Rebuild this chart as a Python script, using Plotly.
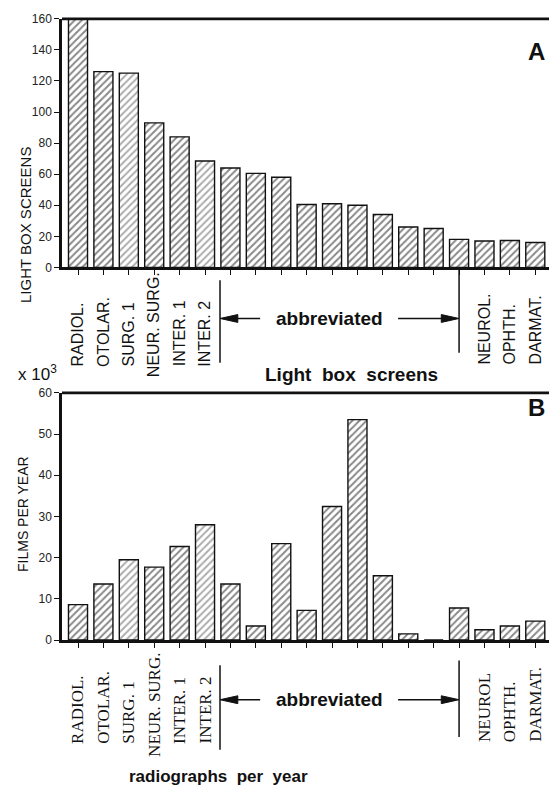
import plotly.graph_objects as go

W, H = 549, 803

# Bars in each panel, left to right (19 services)
bar_index = list(range(19))
left_labels = ["RADIOL.", "OTOLAR.", "SURG. 1", "NEUR. SURG.", "INTER. 1", "INTER. 2"]
right_labels = ["NEUROL.", "OPHTH.", "DARMAT."]
right_labels_b = ["NEUROL", "OPHTH.", "DARMAT."]

# Panel A: number of light box screens per service
light_box_screens = [160, 126, 125, 93, 84, 68.5, 64, 60.5, 58, 40.5,
                     41, 40, 34, 26, 25, 18, 17, 17.3, 16]
# Panel B: films per year (x 10^3) per service
films_per_year = [8.6, 13.6, 19.5, 17.7, 22.7, 28, 13.6, 3.4, 23.4, 7.2,
                  32.4, 53.5, 15.6, 1.5, 0, 7.8, 2.5, 3.4, 4.6]

ticks_a = [0, 20, 40, 60, 80, 100, 120, 140, 160]
ticks_b = [0, 10, 20, 30, 40, 50, 60]

# Services drawn with a broken (lighter) hatch
dotted = {2, 5}

SANS = "Liberation Sans, Arial, Helvetica, sans-serif"
NARROW = "Liberation Sans Narrow, Arial Narrow, Liberation Sans, sans-serif"
SERIF = "Liberation Serif, Times New Roman, serif"
SP = "&nbsp;"


def py(px):
    """Convert a pixel row into paper coordinates."""
    return 1 - px / H


def bar_trace(values, xa, ya):
    return go.Bar(
        x=bar_index, y=values, xaxis=xa, yaxis=ya, width=0.75,
        marker=dict(
            color="white",
            line=dict(color="#111", width=1.4),
            pattern=dict(
                shape="/", bgcolor="white", size=5, solidity=0.4,
                fgcolor=["#5a5a5a" if i in dotted else "#111" for i in bar_index],
            ),
        ),
        showlegend=False, hoverinfo="skip",
    )


fig = go.Figure()
fig.add_trace(bar_trace(light_box_screens, "x", "y"))
fig.add_trace(bar_trace(films_per_year, "x2", "y2"))

x_left = 62 / W
xrange = [-0.63, 18.54]
xcommon = dict(range=xrange, tickvals=bar_index, ticks="outside", ticklen=5,
               tickwidth=1.2, tickcolor="#111", showticklabels=False,
               showgrid=False, zeroline=False, showline=True,
               linecolor="#111", linewidth=2.5, domain=[x_left, 1])
ycommon = dict(ticks="outside", ticklen=5, tickwidth=1.2, tickcolor="#111",
               showgrid=False, zeroline=False, showline=True,
               linecolor="#111", linewidth=2.5,
               tickfont=dict(family=NARROW, size=12, color="#222"))

dom_a = [py(265), py(12)]
dom_b = [py(644.3), py(392.7)]

fig.update_layout(
    width=W, height=H, margin=dict(l=0, r=0, t=0, b=0),
    paper_bgcolor="white", plot_bgcolor="white", bargap=0.25,
    xaxis=dict(anchor="y", **xcommon),
    xaxis2=dict(anchor="y2", **xcommon),
    yaxis=dict(anchor="x", domain=dom_a, range=[0, 160], tickvals=ticks_a,
               **ycommon),
    yaxis2=dict(anchor="x2", domain=dom_b, range=[0, 60], tickvals=ticks_b,
                **ycommon),
)

shapes = []
annotations = []

# Top frame lines of each panel
for top in (dom_a[1], dom_b[1]):
    shapes.append(dict(type="line", xref="paper", yref="paper", x0=x_left,
                       x1=1, y0=top, y1=top,
                       line=dict(color="#111", width=2.8)))


def add_labels(xref, labels_left, labels_right, font, bottom, neur_extra):
    for i, lab in enumerate(labels_left):
        extra = neur_extra if lab.startswith("NEUR.") else 0
        annotations.append(dict(
            x=bar_index[i], xref=xref, y=py(bottom + extra), yref="paper",
            text=lab, textangle=-90, showarrow=False, xanchor="center",
            yanchor="bottom", borderpad=0, font=font))
    for j, lab in enumerate(labels_right):
        annotations.append(dict(
            x=bar_index[16 + j], xref=xref, y=py(bottom - 2), yref="paper",
            text=lab, textangle=-90, showarrow=False, xanchor="center",
            yanchor="bottom", borderpad=0, font=font))


def arrow(xref, tip, tail, y):
    """Horizontal arrow with a filled head, drawn from tail to tip."""
    head = 0.7 if tip < tail else -0.7
    half = 4.0 / H
    yp = py(y)
    shapes.append(dict(type="line", xref=xref, yref="paper", x0=tail,
                       x1=tip + head * 0.5, y0=yp, y1=yp,
                       line=dict(color="#111", width=1.6)))
    shapes.append(dict(
        type="path", xref=xref, yref="paper",
        path=f"M {tip},{yp} L {tip + head},{yp + half} "
             f"L {tip + head},{yp - half} Z",
        fillcolor="#111", line=dict(color="#111", width=1)))


def add_abbrev(xref, y_arrow, left_span, right_span):
    lx, rx = 5.59, 15.0
    shapes.append(dict(type="line", xref=xref, yref="paper", x0=lx, x1=lx,
                       y0=py(left_span[0]), y1=py(left_span[1]),
                       line=dict(color="#111", width=1.5)))
    shapes.append(dict(type="line", xref=xref, yref="paper", x0=rx, x1=rx,
                       y0=py(right_span[0]), y1=py(right_span[1]),
                       line=dict(color="#111", width=1.5)))
    arrow(xref, lx, 7.17, y_arrow)
    arrow(xref, rx, 12.6, y_arrow)
    annotations.append(dict(
        x=(7.17 + 12.6) / 2, xref=xref, y=py(y_arrow), yref="paper",
        text="<b>abbreviated</b>", showarrow=False, xanchor="center",
        yanchor="middle", font=dict(family=SANS, size=19, color="#111")))


# Panel A labels
add_labels("x", left_labels, right_labels,
           dict(family=SANS, size=16, color="#111"), 367, 11)
add_abbrev("x", 317, (278, 362), (266, 352))
# Panel B labels
add_labels("x2", left_labels, right_labels_b,
           dict(family=SERIF, size=17, color="#111"), 751, 13)
add_abbrev("x2", 705, (670, 756), (665, 743))

# Titles and panel letters
annotations += [
    dict(x=15 / W, y=py(141), xref="paper", yref="paper",
         text="LIGHT BOX SCREENS", textangle=-90, showarrow=False,
         font=dict(family=NARROW, size=15, color="#111")),
    dict(x=13 / W, y=py(516), xref="paper", yref="paper",
         text="FILMS PER YEAR", textangle=-90, showarrow=False,
         font=dict(family=SANS, size=14, color="#111")),
    dict(x=351 / W, y=py(374), xref="paper", yref="paper",
         text=f"<b>Light{SP} box{SP} screens</b>", showarrow=False,
         font=dict(family=SANS, size=19, color="#111")),
    dict(x=218 / W, y=py(795), xref="paper", yref="paper",
         text=f"<b>radiographs{SP} per{SP} year</b>", showarrow=False,
         font=dict(family=SANS, size=17, color="#111")),
    dict(x=16 / W, y=py(373), xref="paper", yref="paper", xanchor="left",
         text="x 10<sup>3</sup>", showarrow=False,
         font=dict(family=SANS, size=17, color="#111")),
    dict(x=547 / W, y=py(30), xref="paper", yref="paper", xanchor="right",
         text="<b>A</b>", showarrow=False,
         font=dict(family=SANS, size=24, color="#111")),
    dict(x=547 / W, y=py(408), xref="paper", yref="paper", xanchor="right",
         text="<b>B</b>", showarrow=False,
         font=dict(family=SANS, size=24, color="#111")),
]

fig.update_layout(shapes=shapes, annotations=annotations)
fig.write_html("out.html")
